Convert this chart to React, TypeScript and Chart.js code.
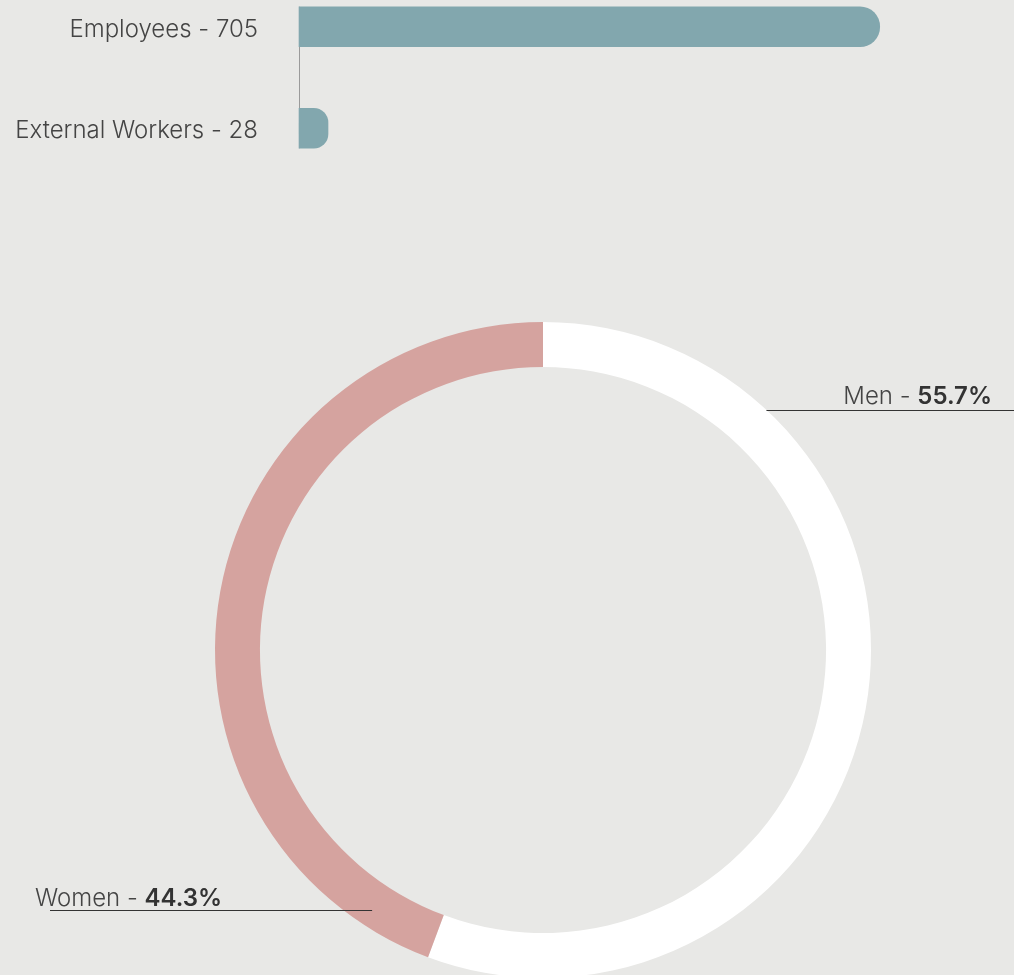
import React, { useEffect, useRef } from "react";
import { Chart, registerables } from "chart.js";

Chart.register(...registerables);

const workforceCategories = ["Employees", "External Workers"];
const workforceValues = [705, 28];
const genderLabels = ["Men", "Women"];
const genderValues = [55.7, 44.3];

const BG = "#e8e8e6";
const BAR_COLOR = "#82a7ae";
const MEN_COLOR = "#ffffff";
const WOMEN_COLOR = "#d5a39f";
const TEXT = "#444444";
const FONT = "Inter, Roboto, 'Liberation Sans', sans-serif";

const barAxisLine = {
  id: "barAxisLine",
  beforeDatasetsDraw(chart: any) {
    const meta = chart.getDatasetMeta(0);
    const first = meta.data[0];
    const last = meta.data[meta.data.length - 1];
    if (!first || !last) return;
    const ctx = chart.ctx;
    const x = Math.round(chart.chartArea.left) + 0.5;
    ctx.save();
    ctx.strokeStyle = "#9a9a9a";
    ctx.lineWidth = 1;
    ctx.beginPath();
    ctx.moveTo(x, first.y - first.height / 2);
    ctx.lineTo(x, last.y + last.height / 2);
    ctx.stroke();
    ctx.restore();
  },
};

const donutLabels = {
  id: "donutLabels",
  afterDraw(chart: any) {
    const meta = chart.getDatasetMeta(0);
    const arc = meta.data[0];
    if (!arc) return;
    const { x: cx, y: cy, outerRadius: R } = arc.getProps(["x", "y", "outerRadius"], true);
    const ctx = chart.ctx;
    const W = chart.width;
    ctx.save();
    ctx.textBaseline = "alphabetic";

    // Men label (right side)
    const menDy = 0.732 * R;
    const menY = Math.round(cy - menDy) + 0.5;
    const menX0 = cx + Math.sqrt(R * R - menDy * menDy);
    ctx.strokeStyle = "#333333";
    ctx.lineWidth = 1;
    ctx.beginPath();
    ctx.moveTo(menX0, menY);
    ctx.lineTo(W, menY);
    ctx.stroke();
    const menA = genderLabels[0] + " - ";
    const menB = genderValues[0].toFixed(1) + "%";
    ctx.font = `300 24px ${FONT}`;
    const wA = ctx.measureText(menA).width;
    ctx.font = `600 24px ${FONT}`;
    const wB = ctx.measureText(menB).width;
    const right = W - 22;
    ctx.fillStyle = TEXT;
    ctx.font = `300 24px ${FONT}`;
    ctx.textAlign = "left";
    ctx.fillText(menA, right - wB - wA, menY - 7);
    ctx.fillStyle = "#333333";
    ctx.font = `600 24px ${FONT}`;
    ctx.fillText(menB, right - wB, menY - 7);

    // Women label (left side)
    const womenDy = 0.793 * R;
    const womenY = Math.round(cy + womenDy) + 0.5;
    const womenX1 = cx - 0.521 * R;
    ctx.beginPath();
    ctx.moveTo(50, womenY);
    ctx.lineTo(womenX1, womenY);
    ctx.stroke();
    const wonA = genderLabels[1] + " - ";
    const wonB = genderValues[1].toFixed(1) + "%";
    ctx.fillStyle = TEXT;
    ctx.font = `300 24px ${FONT}`;
    const wA2 = ctx.measureText(wonA).width;
    ctx.fillText(wonA, 35, womenY - 5);
    ctx.fillStyle = "#333333";
    ctx.font = `600 24px ${FONT}`;
    ctx.fillText(wonB, 35 + wA2, womenY - 5);
    ctx.restore();
  },
};

export default function App() {
  const barRef = useRef<HTMLCanvasElement | null>(null);
  const donutRef = useRef<HTMLCanvasElement | null>(null);

  useEffect(() => {
    document.body.style.margin = "0";
    let barChart: any = null;
    let donutChart: any = null;
    let cancelled = false;

    const build = () => {
      if (cancelled || !barRef.current || !donutRef.current) return;
      barChart = new Chart(barRef.current, {
        type: "bar",
        data: {
          labels: workforceCategories.map((c, i) => `${c} - ${workforceValues[i]}`),
          datasets: [
            {
              data: workforceValues,
              backgroundColor: BAR_COLOR,
              barThickness: 40,
              minBarLength: 29,
              borderRadius: 20,
              borderSkipped: "start",
              borderWidth: 0,
              clip: false,
            } as any,
          ],
        },
        options: {
          indexAxis: "y",
          responsive: false,
          animation: false,
          layout: { padding: 0 },
          plugins: { legend: { display: false }, tooltip: { enabled: false } },
          scales: {
            x: { display: false, min: 0, max: 868 },
            y: {
              grid: { display: false },
              border: { display: false },
              ticks: {
                color: TEXT,
                padding: 33,
                labelOffset: 3,
                font: { family: FONT, size: 24, weight: "300" as any },
              },
              afterFit: (scale: any) => {
                scale.width = 299;
                scale.paddingTop = 0;
                scale.paddingBottom = 0;
              },
            },
          },
        },
        plugins: [barAxisLine],
      });

      donutChart = new Chart(donutRef.current, {
        type: "doughnut",
        data: {
          labels: genderLabels,
          datasets: [
            {
              data: genderValues,
              backgroundColor: [MEN_COLOR, WOMEN_COLOR],
              borderWidth: 0,
            },
          ],
        },
        options: {
          responsive: false,
          animation: false,
          cutout: "86.3%",
          layout: { padding: { left: 215, right: 143, top: 322, bottom: 0 } },
          plugins: { legend: { display: false }, tooltip: { enabled: false } },
        },
        plugins: [donutLabels],
      });
    };

    const fontsReady = (document as any).fonts
      ? Promise.all([
          (document as any).fonts.load(`300 24px Inter`),
          (document as any).fonts.load(`600 24px Inter`),
        ]).catch(() => null)
      : Promise.resolve(null);
    fontsReady.then(build);

    return () => {
      cancelled = true;
      if (barChart) barChart.destroy();
      if (donutChart) donutChart.destroy();
    };
  }, []);

  return (
    <div
      style={{
        position: "fixed",
        left: 0,
        top: 0,
        width: 1014,
        height: 975,
        background: BG,
        overflow: "hidden",
      }}
    >
      <canvas
        ref={donutRef}
        width={1014}
        height={978}
        style={{ position: "absolute", left: 0, top: 0, width: 1014, height: 978 }}
      />
      <canvas
        ref={barRef}
        width={1014}
        height={203}
        style={{ position: "absolute", left: 0, top: -24, width: 1014, height: 203 }}
      />
    </div>
  );
}
